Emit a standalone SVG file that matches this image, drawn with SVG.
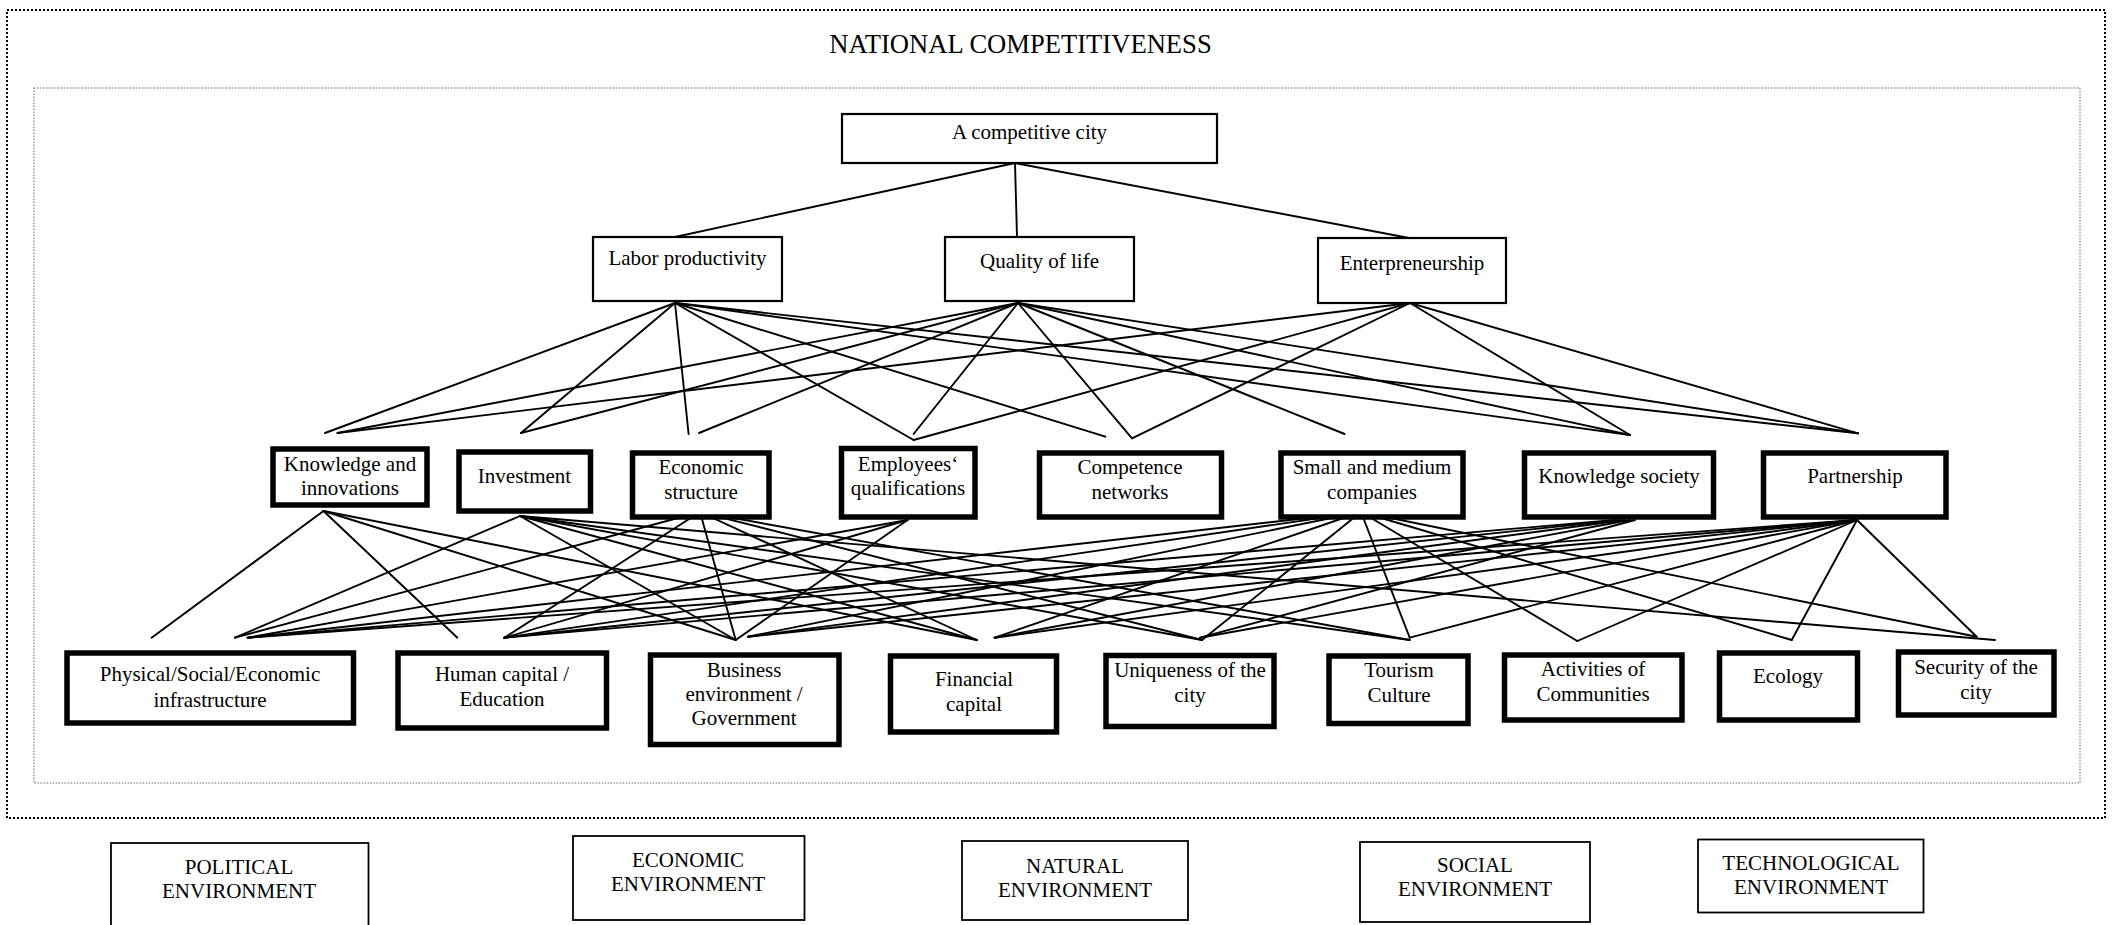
<svg xmlns="http://www.w3.org/2000/svg" width="2116" height="925" viewBox="0 0 2116 925">
<style>
text{font-family:"Liberation Serif","Times New Roman",serif;font-size:21px;fill:#000;text-anchor:middle}
.title{font-size:26.6px}
.b1{fill:#fff;stroke:#000;stroke-width:2.2}
.b2{fill:#fff;stroke:#000;stroke-width:5.5}
.env{fill:#fff;stroke:#000;stroke-width:1.8}
#connectors line{stroke:#000;stroke-width:1.9;stroke-linecap:round}
</style>
<rect width="2116" height="925" fill="#fff"/>
<rect x="7" y="10" width="2098" height="808" fill="none" stroke="#000" stroke-width="2" stroke-dasharray="2 2"/>
<rect x="34" y="88" width="2046" height="695" fill="none" stroke="#999" stroke-width="1.5" stroke-dasharray="1.5 1.5"/>
<text class="title" x="1020.5" y="53">NATIONAL COMPETITIVENESS</text>

<g id="connectors">
<line x1="1015" y1="163" x2="675" y2="237"/>
<line x1="1015" y1="163" x2="1017" y2="237"/>
<line x1="1015" y1="163" x2="1409" y2="238"/>
<!-- Labor productivity -->
<line x1="675" y1="303" x2="325" y2="433"/>
<line x1="675" y1="303" x2="521" y2="433"/>
<line x1="675" y1="303" x2="688.6" y2="434"/>
<line x1="675" y1="303" x2="913.6" y2="440"/>
<line x1="675" y1="303" x2="1105.4" y2="436.7"/>
<line x1="675" y1="303" x2="1630" y2="435"/>
<line x1="675" y1="303" x2="1858" y2="433.3"/>
<!-- Quality of life -->
<line x1="1018" y1="303" x2="337.5" y2="433"/>
<line x1="1018" y1="303" x2="521" y2="433"/>
<line x1="1018" y1="303" x2="699" y2="433"/>
<line x1="1018" y1="303" x2="913.6" y2="434"/>
<line x1="1018" y1="303" x2="1132" y2="438.3"/>
<line x1="1018" y1="303" x2="1344.6" y2="434"/>
<line x1="1018" y1="303" x2="1630" y2="435"/>
<line x1="1018" y1="303" x2="1858" y2="433.3"/>
<!-- Enterpreneurship -->
<line x1="1410" y1="303" x2="337.5" y2="433"/>
<line x1="1410" y1="303" x2="913.6" y2="440"/>
<line x1="1410" y1="303" x2="1132" y2="438.3"/>
<line x1="1410" y1="303" x2="1630" y2="435"/>
<line x1="1410" y1="303" x2="1858" y2="433.3"/>
<!-- Knowledge and innovations -->
<line x1="323.5" y1="511" x2="151.6" y2="637.7"/>
<line x1="323.5" y1="511" x2="457.4" y2="637.7"/>
<line x1="323.5" y1="511" x2="735.7" y2="640"/>
<line x1="323.5" y1="511" x2="976.8" y2="640"/>
<!-- Investment -->
<line x1="520" y1="516" x2="235" y2="637.7"/>
<line x1="520" y1="516" x2="735.7" y2="640"/>
<line x1="520" y1="516" x2="976.8" y2="640"/>
<line x1="520" y1="516" x2="1202" y2="640"/>
<line x1="520" y1="516" x2="1409.7" y2="640"/>
<line x1="520" y1="516" x2="1995" y2="640"/>
<!-- Economic structure -->
<line x1="700" y1="512" x2="235" y2="637.7"/>
<line x1="700" y1="512" x2="504.3" y2="637.7"/>
<line x1="700" y1="512" x2="735.7" y2="640"/>
<line x1="700" y1="512" x2="976.8" y2="640"/>
<line x1="700" y1="512" x2="1202" y2="640"/>
<line x1="700" y1="512" x2="1409.7" y2="640"/>
<!-- Employees' qualifications -->
<line x1="907.6" y1="520" x2="247.6" y2="637.7"/>
<line x1="907.6" y1="520" x2="504.3" y2="637.7"/>
<line x1="907.6" y1="520" x2="735.7" y2="640"/>
<!-- Small and medium companies -->
<line x1="1361" y1="512" x2="247.6" y2="637.7"/>
<line x1="1361" y1="512" x2="504.3" y2="637.7"/>
<line x1="1361" y1="512" x2="748" y2="636.7"/>
<line x1="1361" y1="512" x2="994.6" y2="637.7"/>
<line x1="1361" y1="512" x2="1202" y2="640"/>
<line x1="1361" y1="512" x2="1409.7" y2="637.7"/>
<line x1="1361" y1="512" x2="1577.3" y2="641"/>
<line x1="1361" y1="512" x2="1791.7" y2="640"/>
<line x1="1361" y1="512" x2="1976.7" y2="636.7"/>
<!-- Knowledge society -->
<line x1="1615" y1="520" x2="247.6" y2="637.7"/>
<line x1="1620" y1="520" x2="504.3" y2="637.7"/>
<line x1="1625" y1="520" x2="748" y2="636.7"/>
<line x1="1630" y1="520" x2="994.6" y2="637.7"/>
<line x1="1635" y1="520" x2="1200" y2="637.7"/>
<!-- Partnership -->
<line x1="1857" y1="520" x2="247.6" y2="637.7"/>
<line x1="1857" y1="520" x2="504.3" y2="637.7"/>
<line x1="1857" y1="520" x2="748" y2="636.7"/>
<line x1="1857" y1="520" x2="994.6" y2="637.7"/>
<line x1="1857" y1="520" x2="1200" y2="637.7"/>
<line x1="1857" y1="520" x2="1409.7" y2="637.7"/>
<line x1="1857" y1="520" x2="1577.3" y2="641"/>
<line x1="1857" y1="520" x2="1791.7" y2="640"/>
<line x1="1857" y1="520" x2="1976.7" y2="636.7"/>
</g>

<g id="city"><rect class="b1" x="842" y="114" width="375" height="49"/><text x="1029.5" y="139">A competitive city</text></g>
<g id="labor"><rect class="b1" x="593" y="237" width="189" height="64"/><text x="687.5" y="265">Labor productivity</text></g>
<g id="quality"><rect class="b1" x="945" y="237" width="189" height="64"/><text x="1039.5" y="268">Quality of life</text></g>
<g id="enterpreneurship"><rect class="b1" x="1318" y="238" width="188" height="65"/><text x="1412" y="270">Enterpreneurship</text></g>

<g id="knowledge-innovations"><rect class="b2" x="273" y="449" width="154" height="56"/><text x="350" y="471">Knowledge and</text><text x="350" y="495">innovations</text></g>
<g id="investment"><rect class="b2" x="459" y="452" width="131.5" height="59"/><text x="524.5" y="483">Investment</text></g>
<g id="economic-structure"><rect class="b2" x="632.5" y="453" width="136.5" height="64"/><text x="701" y="474">Economic</text><text x="701" y="499">structure</text></g>
<g id="employees"><rect class="b2" x="841.5" y="448.5" width="133.5" height="68.5"/><text x="908" y="471">Employees‘</text><text x="908" y="495">qualifications</text></g>
<g id="competence"><rect class="b2" x="1039.5" y="453" width="182" height="64"/><text x="1130" y="474">Competence</text><text x="1130" y="499">networks</text></g>
<g id="sme"><rect class="b2" x="1281" y="453" width="182" height="64"/><text x="1372" y="474">Small and medium</text><text x="1372" y="499">companies</text></g>
<g id="knowledge-society"><rect class="b2" x="1524.5" y="453" width="189" height="64"/><text x="1619" y="483">Knowledge society</text></g>
<g id="partnership"><rect class="b2" x="1763.5" y="453" width="182.5" height="64"/><text x="1855" y="483">Partnership</text></g>

<g id="infrastructure"><rect class="b2" x="67" y="653" width="286.5" height="70"/><text x="210" y="681">Physical/Social/Economic</text><text x="210" y="707">infrastructure</text></g>
<g id="human-capital"><rect class="b2" x="398" y="653" width="208.5" height="75"/><text x="502" y="681">Human capital /</text><text x="502" y="706">Education</text></g>
<g id="business"><rect class="b2" x="650.5" y="655" width="188.5" height="89.5"/><text x="744" y="677">Business</text><text x="744" y="701">environment /</text><text x="744" y="725">Government</text></g>
<g id="financial"><rect class="b2" x="890.5" y="656" width="166" height="76"/><text x="974" y="686">Financial</text><text x="974" y="711">capital</text></g>
<g id="uniqueness"><rect class="b2" x="1106" y="655.5" width="168" height="71"/><text x="1190" y="677">Uniqueness of the</text><text x="1190" y="702">city</text></g>
<g id="tourism"><rect class="b2" x="1329" y="656" width="139" height="67.5"/><text x="1399" y="677">Tourism</text><text x="1399" y="702">Culture</text></g>
<g id="communities"><rect class="b2" x="1504.5" y="655" width="177.5" height="65"/><text x="1593" y="676">Activities of</text><text x="1593" y="701">Communities</text></g>
<g id="ecology"><rect class="b2" x="1719.5" y="653" width="138" height="67"/><text x="1788" y="683">Ecology</text></g>
<g id="security"><rect class="b2" x="1898.5" y="652" width="155.5" height="63"/><text x="1976" y="674">Security of the</text><text x="1976" y="699">city</text></g>

<g id="political"><rect class="env" x="111" y="843" width="257.5" height="100"/><text x="239" y="874">POLITICAL</text><text x="239" y="898">ENVIRONMENT</text></g>
<g id="economic-env"><rect class="env" x="573" y="836" width="231.5" height="84"/><text x="688" y="867">ECONOMIC</text><text x="688" y="891">ENVIRONMENT</text></g>
<g id="natural"><rect class="env" x="962" y="841" width="226" height="79"/><text x="1075" y="873">NATURAL</text><text x="1075" y="897">ENVIRONMENT</text></g>
<g id="social"><rect class="env" x="1360" y="842" width="230" height="80"/><text x="1475" y="872">SOCIAL</text><text x="1475" y="896">ENVIRONMENT</text></g>
<g id="technological"><rect class="env" x="1698" y="839.5" width="225.5" height="73"/><text x="1811" y="870">TECHNOLOGICAL</text><text x="1811" y="894">ENVIRONMENT</text></g>
</svg>
